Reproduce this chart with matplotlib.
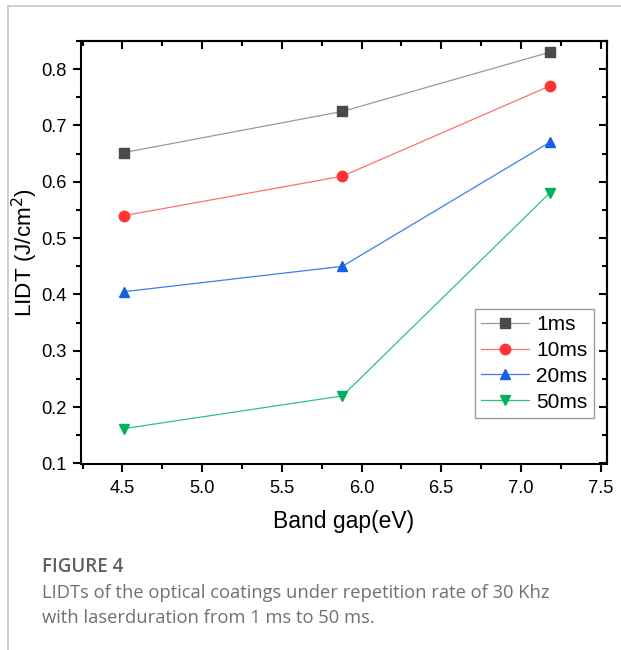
import matplotlib.pyplot as plt
from matplotlib.lines import Line2D
from matplotlib.ticker import MultipleLocator

plt.rcParams['font.family'] = ['Liberation Sans', 'DejaVu Sans']

# data
band_gap = [4.51, 5.88, 7.18]
lidt_1ms = [0.652, 0.725, 0.830]
lidt_10ms = [0.540, 0.610, 0.770]
lidt_20ms = [0.405, 0.450, 0.670]
lidt_50ms = [0.162, 0.220, 0.580]
labels = ['1ms', '10ms', '20ms', '50ms']

series = [lidt_1ms, lidt_10ms, lidt_20ms, lidt_50ms]
markers = ['s', 'o', '^', 'v']
msizes = [6.5, 7.5, 7.5, 7.5]
mcolors = ['#4a4a4a', '#ff3333', '#1560e0', '#00b060']
lcolors = ['#9a9a9a', '#ff7070', '#3d7ee8', '#30c080']

fig = plt.figure(figsize=(6.21, 6.5), dpi=100)
W, H = 621, 650
ax = fig.add_axes([81 / W, 1 - 463.5 / H, (607 - 81) / W, (463.5 - 41) / H])

for ys, lab, mk, ms, mc, lc in zip(series, labels, markers, msizes, mcolors, lcolors):
    ax.plot(band_gap, ys, color=lc, lw=0.9, marker=mk, markersize=ms,
            markerfacecolor=mc, markeredgecolor=mc, label=lab)

ax.set_xlim(4.24, 7.54)
ax.set_ylim(0.1, 0.85)
ax.xaxis.set_major_locator(MultipleLocator(0.5))
ax.xaxis.set_minor_locator(MultipleLocator(0.25))
ax.yaxis.set_major_locator(MultipleLocator(0.1))
ax.yaxis.set_minor_locator(MultipleLocator(0.05))
ax.tick_params(which='both', direction='out', width=1.5, labelsize=13.2, colors='black')
ax.tick_params(which='major', length=6)
ax.tick_params(which='minor', length=3.5)
ax.tick_params(axis='x', which='major', pad=6)
ax.tick_params(axis='y', which='major', pad=4)
for s in ax.spines.values():
    s.set_linewidth(1.5)

# mirrored ticks on top and right, pointing inward
top = ax.secondary_xaxis('top')
top.xaxis.set_major_locator(MultipleLocator(0.5))
top.xaxis.set_minor_locator(MultipleLocator(0.25))
top.tick_params(which='both', direction='in', width=1.5, labeltop=False)
top.tick_params(which='major', length=5.5)
top.tick_params(which='minor', length=3.5)
top.spines['top'].set_linewidth(1.5)
right = ax.secondary_yaxis('right')
right.yaxis.set_major_locator(MultipleLocator(0.1))
right.yaxis.set_minor_locator(MultipleLocator(0.05))
right.tick_params(which='both', direction='in', width=1.5, labelright=False)
right.tick_params(which='major', length=5.5)
right.tick_params(which='minor', length=3.5)
right.spines['right'].set_linewidth(1.5)

ax.set_xlabel('Band gap(eV)', fontsize=16.5, labelpad=9)
ax.set_ylabel('LIDT (J/cm$^2$)', fontsize=16.2, labelpad=1)

leg = ax.legend(loc='lower right', bbox_to_anchor=(0.975, 0.108), fontsize=15,
                frameon=True, fancybox=False, edgecolor='#808080',
                handlelength=2.3, borderpad=0.3, labelspacing=0.33,
                handletextpad=0.35, borderaxespad=0.0)
leg.get_frame().set_linewidth(1.0)

# card border lines
fig.add_artist(Line2D([8 / W, 1], [1 - 6 / H, 1 - 6 / H], color='#c8c8c8', lw=1.2))
fig.add_artist(Line2D([8 / W, 8 / W], [0, 1 - 6 / H], color='#c8c8c8', lw=1.2))

# caption
fig.text(42 / W, 1 - 567 / H, 'FIGURE 4', fontsize=13.5, fontweight='semibold',
         color='#606060', family='Open Sans', va='center')
fig.text(42 / W, 1 - 593 / H, 'LIDTs of the optical coatings under repetition rate of 30 Khz',
         fontsize=13.2, color='#707070', family='Open Sans', va='center')
fig.text(42 / W, 1 - 618 / H, 'with laserduration from 1 ms to 50 ms.',
         fontsize=13.2, color='#707070', family='Open Sans', va='center')

fig.savefig('out.png', dpi=100)
